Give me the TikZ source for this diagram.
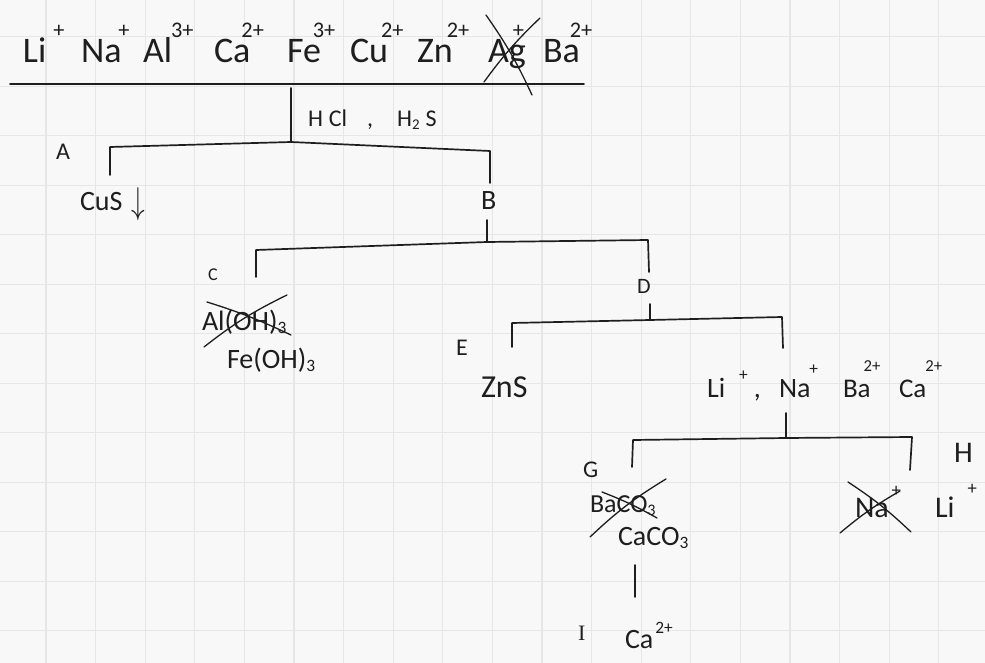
\documentclass[tikz,border=0pt]{standalone}
\usepackage{fontspec}
\usepackage{graphicx}
\setmainfont{Carlito}
\newfontfamily\serifface{Liberation Serif}
\definecolor{ink}{HTML}{1E1E1E}
\definecolor{paper}{HTML}{F8F8F8}
\definecolor{gridc}{HTML}{E6E6E6}
\newcommand\chg[3][0.72em]{\kern#2\raisebox{#1}{\scalebox{0.62}{#3}}}
\newcommand\subs[1]{\raisebox{-0.12em}{\scalebox{0.62}{#1}}}
\begin{document}
\begin{tikzpicture}[x=1pt,y=-1pt,
  pen/.style={draw=ink,line width=1.7pt,line cap=round,line join=round},
  strike/.style={draw=ink,line width=1.3pt,line cap=round},
  txt/.style={inner sep=0pt,outer sep=0pt,text=ink,anchor=base west,font=\fontsize{#1}{#1}\selectfont},
  gridline/.style={draw=gridc,line width=1.3pt}]
\fill[paper] (0,0) rectangle (985,663);
\useasboundingbox (0,0) rectangle (985,663);
\foreach \i in {1,...,19} {\draw[gridline] ({-3.6+49.6*\i},0) -- ({-3.6+49.6*\i},663);}
\foreach \j in {0,...,12} {\draw[gridline] (0,{36.8+49.5*\j}) -- (985,{36.8+49.5*\j});}

% top row of ions
\node[txt=36] (li1) at (23,63) {Li\chg{7pt}{+}};
\node[txt=36] (na1) at (81,63) {Na\chg{-3pt}{+}};
\node[txt=36] (al1) at (143,63) {Al\chg{-1pt}{3+}};
\node[txt=36] (ca1) at (214,63) {Ca\chg{-9pt}{2+}};
\node[txt=36] (fe1) at (287,63) {Fe\chg{-8pt}{3+}};
\node[txt=36] (cu1) at (350,63) {Cu\chg{-7pt}{2+}};
\node[txt=36] (zn1) at (417,63) {Zn\chg{-6pt}{2+}};
\node[txt=36] (ag1) at (488,63) {Ag\chg{-13pt}{+}};
\node[txt=36] (ba1) at (543,63) {Ba\chg{-10pt}{2+}};
\draw[strike] (486,15) to[bend left=5] (532,95);
\draw[strike] (540,18) to[bend right=5] (484,82);

% main line and first split
\coordinate (m1) at (10,84); \coordinate (m2) at (584,84);
\draw[pen] (m1) -- (m2);
\coordinate (s0) at (291,88); \coordinate (s1) at (291,142);
\draw[pen] (s0) -- (s1);
\node[txt=24] (hcl) at (308,127) {H\hspace{6pt}Cl\hspace{20pt},\hspace{24pt}H\subs{2}\hspace{6pt}S};
\coordinate (b1l) at (110,147); \coordinate (b1r) at (490,151);
\coordinate (b1a) at (110,175); \coordinate (b1b) at (490,183);
\draw[pen] (b1a) -- (b1l) -- (s1) -- (b1r) -- (b1b);
\node[txt=24] (A) at (56,160) {A};
\node[txt=28] (cus) at (80,211) {CuS\hspace{9pt}\raisebox{-0.1em}{\scalebox{1.1}[1.5]{$\downarrow$}}};
\node[txt=28] (B) at (481,210) {B};

% second split
\coordinate (bs0) at (487,220); \coordinate (bs1) at (487,242);
\draw[pen] (bs0) -- (bs1);
\coordinate (b2l) at (256,250); \coordinate (b2r) at (648,240);
\coordinate (b2a) at (256,277); \coordinate (b2b) at (649,272);
\draw[pen] (b2a) -- (b2l) -- (bs1) -- (b2r) -- (b2b);
\node[txt=18] (C) at (208,280) {C};
\node[txt=28] (aloh) at (202,330) {Al(OH)\subs{3}};
\draw[strike] (204,347) to[bend left=6] (287,295);
\draw[strike] (207,302) to[bend left=4] (291,335);
\node[txt=28] (feoh) at (227,368) {Fe(OH)\subs{3}};
\node[txt=22] (D) at (637,293) {D};

% third split
\coordinate (ds0) at (650,304); \coordinate (ds1) at (650,320);
\draw[pen] (ds0) -- (ds1);
\coordinate (b3l) at (512,323); \coordinate (b3r) at (782,317);
\coordinate (b3a) at (512,347); \coordinate (b3b) at (783,348);
\draw[pen] (b3a) -- (b3l) -- (ds1) -- (b3r) -- (b3b);
\node[txt=24] (E) at (456,355) {E};
\node[txt=32] (zns) at (481,397) {ZnS};
\node[txt=28] (li2) at (707,397) {Li\chg[0.6em]{14pt}{+}\hspace{6pt},};
\node[txt=28] (na2) at (779,397) {Na\chg[0.8em]{-1pt}{+}};
\node[txt=27] (ba2) at (843,397) {Ba\chg[0.95em]{-7pt}{2+}};
\node[txt=27] (ca2) at (899,397) {Ca\chg[0.95em]{-1pt}{2+}};

% fourth split
\coordinate (ls0) at (786,413); \coordinate (ls1) at (786,438);
\draw[pen] (ls0) -- (ls1);
\coordinate (b4l) at (633,440); \coordinate (b4r) at (912,437);
\coordinate (b4a) at (632,467); \coordinate (b4b) at (910,470);
\draw[pen] (b4a) -- (b4l) -- (ls1) -- (b4r) -- (b4b);
\node[txt=24] (G) at (583,477) {G};
\node[txt=30] (H) at (954,462) {H};
\node[txt=26] (baco) at (590,512) {BaCO\subs{3}};
\draw[strike] (590,537) to[bend left=6] (666,479);
\draw[strike] (602,492) to[bend left=4] (657,518);
\node[txt=28] (caco) at (618,545) {CaCO\subs{3}};
\node[txt=30] (na3) at (855,517) {Na\chg[0.7em]{3pt}{+}};
\draw[strike] (848,482) to[bend left=5] (911,532);
\draw[strike] (840,533) to[bend left=5] (900,491);
\node[txt=30] (li3) at (935,517) {Li\chg[0.75em]{13pt}{+}};

% last step
\coordinate (cs0) at (635,565); \coordinate (cs1) at (635,597);
\draw[pen] (cs0) -- (cs1);
\node[txt=22] (I) at (578,640) {\serifface I};
\node[txt=28] (ca3) at (625,648) {Ca\chg[0.52em]{2pt}{2+}};
\end{tikzpicture}
\end{document}
